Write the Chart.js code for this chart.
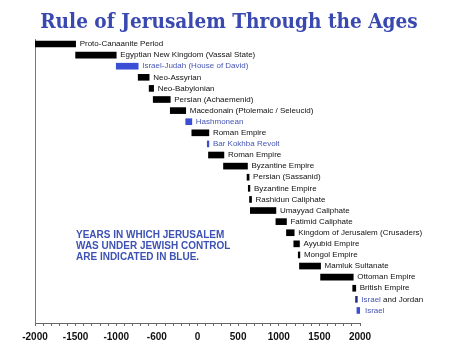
<!DOCTYPE html>
<html>
<head>
<meta charset="utf-8">
<script src="https://cdn.jsdelivr.net/npm/chart.js@4/dist/chart.umd.min.js"></script>
<style>
    html, body { margin: 0; padding: 0; background: #fff; }
</style>
</head>
<body>
<canvas id="chart" width="455" height="352"></canvas>
<script>
// periods of rule, top to bottom
const periods = [
    'Proto-Canaanite Period',
    'Egyptian New Kingdom (Vassal State)',
    'Israel-Judah (House of David)',
    'Neo-Assyrian',
    'Neo-Babylonian',
    'Persian (Achaemenid)',
    'Macedonain (Ptolemaic / Seleucid)',
    'Hashmonean',
    'Roman Empire',
    'Bar Kokhba Revolt',
    'Roman Empire',
    'Byzantine Empire',
    'Persian (Sassanid)',
    'Byzantine Empire',
    'Rashidun Caliphate',
    'Umayyad Caliphate',
    'Fatimid Caliphate',
    'Kingdom of Jerusalem (Crusaders)',
    'Ayyubid Empire',
    'Mongol Empire',
    'Mamluk Sultanate',
    'Ottoman Empire',
    'British Empire',
    'Israel and Jordan',
    'Israel',
];
const starts = [-2000, -1500, -1000, -730, -595, -545, -335, -145, -70, 120, 135, 320, 610, 625, 640, 650, 965, 1095, 1185, 1240, 1255, 1515, 1910, 1945, 1962];
const ends   = [-1500, -1000, -730, -595, -540, -335, -145, -70, 140, 140, 325, 615, 635, 645, 665, 965, 1095, 1190, 1255, 1260, 1515, 1917, 1948, 1967, 2012];
// 'other' = foreign rule, 'jewish' = jewish control, 'shared' = split city
const control = ['other', 'other', 'jewish', 'other', 'other', 'other', 'other', 'jewish', 'other', 'jewish',
    'other', 'other', 'other', 'other', 'other', 'other', 'other', 'other', 'other', 'other',
    'other', 'other', 'other', 'shared', 'jewish'];

const tickValues = [-2000, -1500, -1000, -500, 0, 500, 1000, 1500, 2000];
const tickLabels = ['-2000', '-1500', '-1000', '-600', '0', '500', '1000', '1500', '2000'];

const title = 'Rule of Jerusalem Through the Ages';
const note = ['YEARS IN WHICH JERUSALEM', 'WAS UNDER JEWISH CONTROL', 'ARE INDICATED IN BLUE.'];

const barColors = { other: '#000000', jewish: '#3a4fd6', shared: '#1f2a78' };
const blueText = '#4556b4';

const periodLabels = {
    id: 'periodLabels',
    afterDatasetsDraw(chart) {
        const { ctx, chartArea, scales: { x, y } } = chart;
        ctx.save();
        ctx.font = '8px "Liberation Sans", Arial, sans-serif';
        ctx.textBaseline = 'middle';
        ctx.textAlign = 'left';
        periods.forEach((name, i) => {
            let px = x.getPixelForValue(ends[i]) + 4;
            const py = y.getPixelForValue(i);
            if (control[i] === 'shared') {
                ctx.fillStyle = blueText;
                ctx.fillText('Israel', px, py);
                px += ctx.measureText('Israel ').width;
                ctx.fillStyle = '#111';
                ctx.fillText('and Jordan', px, py);
            } else {
                ctx.fillStyle = control[i] === 'jewish' ? blueText : '#111';
                ctx.fillText(name, px, py);
            }
        });

        ctx.font = 'bold 10px "Liberation Sans", Arial, sans-serif';
        ctx.fillStyle = '#3d52b4';
        note.forEach((line, k) => {
            ctx.fillText(line, chartArea.left + 41, chartArea.top + 196 + k * 11);
        });

        // title, centred on the page rather than on the plot
        ctx.font = 'bold 20.6px "DejaVu Serif Condensed", "DejaVu Serif", serif';
        ctx.fillStyle = '#3949b0';
        ctx.textAlign = 'center';
        ctx.textBaseline = 'alphabetic';
        ctx.fillText(title, chart.width / 2 + 1.5, 28);
        ctx.restore();
    }
};

const cfg = {
    type: 'bar',
    data: {
        datasets: [{
            data: periods.map((p, i) => ({ x: [starts[i], ends[i]], y: i })),
            backgroundColor: control.map(c => barColors[c]),
            borderWidth: 0,
            barThickness: 6,
            borderSkipped: false,
        }]
    },
    options: {
        indexAxis: 'y',
        responsive: false,
        animation: false,
        layout: { padding: { left: 35, right: 95, top: 39, bottom: 4 } },
        plugins: {
            legend: { display: false },
            tooltip: { enabled: false },
        },
        scales: {
            x: {
                type: 'linear',
                min: -2000,
                max: 2000,
                grid: { drawOnChartArea: false, drawTicks: true, tickLength: 3, color: '#666' },
                border: { color: '#666', width: 1 },
                ticks: {
                    stepSize: 100,
                    autoSkip: false,
                    maxRotation: 0,
                    padding: 5,
                    color: '#111',
                    font: { family: '"Liberation Sans", Arial, sans-serif', size: 10, weight: 'bold' },
                    callback: function(value) {
                        const k = tickValues.indexOf(value);
                        return k >= 0 ? tickLabels[k] : '';
                    }
                },
            },
            y: {
                type: 'linear',
                reverse: true,
                offset: false,
                min: -0.45,
                max: 25.13,
                grid: { display: false, drawTicks: false },
                border: { display: true, color: '#777', width: 1 },
                ticks: { display: false },
            },
        },
    },
    plugins: [periodLabels],
};

new Chart(document.getElementById('chart'), cfg);
</script>
</body>
</html>
